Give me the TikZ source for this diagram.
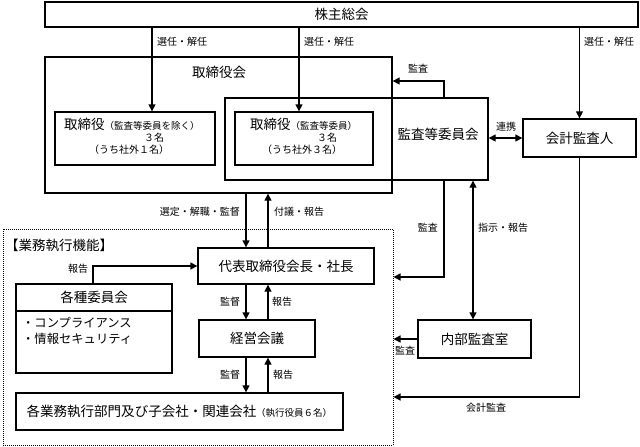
\documentclass[tikz,border=0pt]{standalone}
\usepackage{fontspec}
\setmainfont{Noto Sans CJK JP}
\usetikzlibrary{arrows.meta}
\newcommand{\bigf}{\fontsize{13.5}{15}\selectfont}
\newcommand{\midf}{\fontsize{10}{11}\selectfont}
\newcommand{\smf}{\fontsize{9.5}{10}\selectfont}
\tikzset{
  box/.style={draw, line width=1.3pt, rectangle, inner sep=0pt, font=\bigf},
  dotbox/.style={draw, line width=1pt, dash pattern=on 1pt off 1pt, rectangle, inner sep=0pt},
  arr/.style={line width=1.3pt, -{Triangle[length=7pt,width=7pt]}},
  dbl/.style={line width=1.3pt, {Triangle[length=7pt,width=7pt]}-{Triangle[length=7pt,width=7pt]}},
  lbl/.style={inner sep=0pt, font=\midf},
  ttl/.style={inner sep=0pt, font=\bigf},
}
\begin{document}
\begin{tikzpicture}[x=1pt,y=-1pt]
\useasboundingbox (0,0) rectangle (640,447);
% boxes
\node[box, minimum width=593pt, minimum height=25pt] (kabu) at (341.5,14.5) {株主総会};
\node[box, minimum width=347pt, minimum height=136pt] (torikai) at (218.5,125) {};
\node[box, minimum width=263pt, minimum height=82pt] (kansakai) at (356.5,139) {};
\node[box, minimum width=160pt, minimum height=53pt] (tori1) at (135,138.5) {};
\node[box, minimum width=138pt, minimum height=53pt] (tori2) at (304,138.5) {};
\node[box, minimum width=113pt, minimum height=38pt] (kaikei) at (579.5,138) {会計監査人};
\node[dotbox, minimum width=390pt, minimum height=216pt] (gyomuarea) at (198,337) {};
\node[box, minimum width=176pt, minimum height=36pt] (daihyo) at (286,266) {代表取締役会長・社長};
\node[box, minimum width=156pt, minimum height=89pt] (kakushu) at (94,328.5) {};
\node[box, minimum width=116pt, minimum height=37pt] (keiei) at (257,338.5) {経営会議};
\node[box, minimum width=113pt, minimum height=38pt] (naibu) at (474.5,339) {内部監査室};
\node[box, minimum width=327pt, minimum height=37pt] (gyomu) at (179.5,411.5) {各業務執行部門及び子会社・関連会社{\smf （執行役員６名）}};
% divider in kakushu
\coordinate (kdiv) at (0,311);
\draw[line width=1.3pt] (kakushu.west |- kdiv) -- (kakushu.east |- kdiv);
% texts
\node[ttl] (t-torikai) at (219,72) {取締役会};
\node[ttl] (t-kansakai) at (438,134) {監査等委員会};
\node[ttl, anchor=west] (t-gyomu) at (5,245) {【業務執行機能】};
\node[ttl] (t-kakushu) at (94,297) {各種委員会};
\node[inner sep=0pt, font=\fontsize{12.3}{14}\selectfont, anchor=west] (t-k1) at (22,323) {・コンプライアンス};
\node[inner sep=0pt, font=\fontsize{12.3}{14}\selectfont, anchor=west] (t-k2) at (22,339) {・情報セキュリティ};
\node[inner sep=0pt, anchor=west] (t1a) at (64,124) {{\bigf 取締役}{\smf （監査等委員を除く）}};
\node[lbl] (t1b) at (154,137.5) {３名};
\node[lbl] (t1c) at (129,149.5) {（うち社外１名）};
\node[inner sep=0pt, anchor=west] (t2a) at (250,124) {{\bigf 取締役}{\smf （監査等委員）}};
\node[lbl] (t2b) at (327,137.5) {３名};
\node[lbl] (t2c) at (302,149.5) {（うち社外３名）};
% x/y helper coordinates
\coordinate (xA) at (152,0);
\coordinate (xB) at (299,0);
\coordinate (xL) at (246,0);
\coordinate (xR) at (268,0);
\coordinate (xK) at (93,0);
\coordinate (xS) at (444,0);
\coordinate (xI) at (473,0);
\coordinate (y81) at (0,81);
\coordinate (y277) at (0,277);
\coordinate (y397) at (0,397);
% connectors
\draw[arr] (kabu.south -| xA) -- (tori1.north -| xA);
\draw[arr] (kabu.south -| xB) -- (tori2.north -| xB);
\draw[arr] (kabu.south -| kaikei.north) -- (kaikei.north);
\draw[dbl] (kansakai.east |- kaikei.west) -- (kaikei.west);
\draw[arr] (kansakai.north -| xS) |- (torikai.east |- y81);
\draw[arr] (torikai.south -| xL) -- (daihyo.north -| xL);
\draw[arr] (daihyo.north -| xR) -- (torikai.south -| xR);
\draw[arr] (daihyo.south -| xL) -- (keiei.north -| xL);
\draw[arr] (keiei.north -| xR) -- (daihyo.south -| xR);
\draw[arr] (keiei.south -| xL) -- (gyomu.north -| xL);
\draw[arr] (gyomu.north -| xR) -- (keiei.south -| xR);
\draw[arr] (kakushu.north -| xK) |- (daihyo.west);
\draw[arr] (kansakai.south -| xS) |- (gyomuarea.east |- y277);
\draw[dbl] (kansakai.south -| xI) -- (naibu.north -| xI);
\draw[arr] (naibu.west) -- (gyomuarea.east |- naibu.west);
\draw[arr] (kaikei.south) |- (gyomuarea.east |- y397);
% labels
\node[lbl, anchor=west] (l1) at (157,42) {選任・解任};
\node[lbl, anchor=west] (l2) at (304,42) {選任・解任};
\node[lbl, anchor=west] (l3) at (584,42) {選任・解任};
\node[lbl] (l4) at (418,69) {監査};
\node[lbl] (l5) at (506,127) {連携};
\node[lbl, anchor=east] (l6) at (240,212) {選定・解職・監督};
\node[lbl, anchor=west] (l7) at (274,212) {付議・報告};
\node[lbl, anchor=east] (l8) at (438,228) {監査};
\node[lbl, anchor=west] (l9) at (478,228) {指示・報告};
\node[lbl] (l10) at (78,269) {報告};
\node[lbl] (l11) at (230,302) {監督};
\node[lbl] (l12) at (282,302) {報告};
\node[lbl] (l13) at (230,375) {監督};
\node[lbl] (l14) at (283,375) {報告};
\node[lbl] (l15) at (405,351) {監査};
\node[lbl] (l16) at (486,408) {会計監査};
\end{tikzpicture}
\end{document}
